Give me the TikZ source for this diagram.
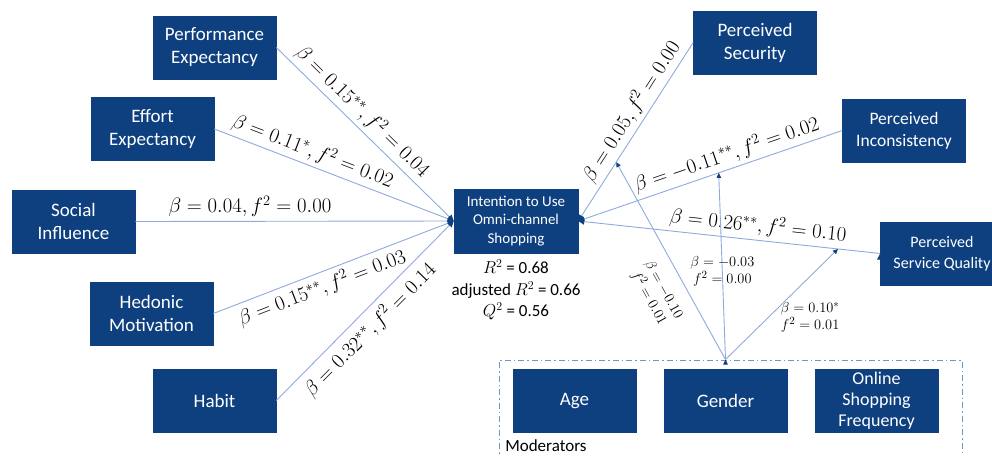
\documentclass[tikz,border=0pt]{standalone}
\usepackage{amsmath}
\usepackage{fontspec}
\setmainfont{Carlito}
\usetikzlibrary{arrows.meta}
\usetikzlibrary{calc}
\usetikzlibrary{positioning}
\definecolor{boxblue}{RGB}{14,64,128}
\definecolor{pathblue}{RGB}{143,170,220}
\definecolor{modblue}{RGB}{110,150,205}

\begin{document}
\begin{tikzpicture}[x=1pt,y=-1pt,-,node distance=151pt,semithick]
 \tikzstyle{var}=[draw=boxblue, fill=boxblue, text=white, align=center, inner sep=2pt,
   minimum width=123pt, minimum height=63pt, font=\fontsize{19}{23}\selectfont]
 \tikzstyle{link}=[draw=pathblue, line width=0.9pt, -{Triangle[length=6pt,width=6pt,color=boxblue]}]
 \tikzstyle{coef}=[sloped, inner sep=4pt, font=\fontsize{20.5}{24}\selectfont]
 \tikzstyle{mcoef}=[align=center, inner sep=2pt, font=\fontsize{15}{17}\selectfont]
 \useasboundingbox (0,0) rectangle (992,455);

 % outcome
 \node[var, minimum width=124pt, minimum height=64pt, font=\fontsize{15}{18.5}\selectfont] (I) at (516,221) {Intention to Use\\Omni-channel\\Shopping};
 \node[below=3pt of I, align=center, font=\fontsize{17}{21.5}\selectfont] (RS) {$R^2$ = 0.68\\adjusted $R^2$ = 0.66\\$Q^2$ = 0.56};

 % predictors
 \node[var] (PE) at (214.5,47.5) {Performance\\Expectancy};
 \node[var] (EE) at (152.5,129) {Effort\\Expectancy};
 \node[var] (SI) at (73.5,221.5) {Social\\Influence};
 \node[var] (HM) at (151.5,313.5) {Hedonic\\Motivation};
 \node[var] (HB) at (214.5,400.5) {Habit};
 \node[var] (PS) at (755,42.5) {Perceived\\Security};
 \node[var, font=\fontsize{17.5}{22}\selectfont] (PI) at (904,130.5) {Perceived\\Inconsistency};
 \node[var, font=\fontsize{16}{21}\selectfont] (PQ) at (942,253.5) {Perceived\\Service Quality};

 % moderators
 \node[draw=modblue, line width=0.9pt, dash pattern=on 6pt off 3pt on 1.5pt off 3pt,
   minimum width=463pt, minimum height=98pt] (MB) at (730.5,409) {};
 \node[var] (GE) at (725.5,401) {Gender};
 \node[var] (AG) [left of=GE] {Age};
 \node[var, inner sep=0pt, font=\fontsize{18}{21}\selectfont] (OF) [right of=GE] {Online\\Shopping\\Frequency};
 \node[anchor=west, inner sep=0pt, font=\fontsize{17}{20}\selectfont] (ML) at (505,446) {Moderators};

 \path[link]
  (PE.east) edge node[coef, above, pos=0.43] {$\beta=0.15^{**}, f^2=0.04$} (I.west)
  (EE.east) edge node[coef, above, pos=0.39] {$\beta=0.11^{*}, f^2=0.02$} (I.west)
  (SI.east) edge node[coef, above, pos=0.36] {$\beta=0.04, f^2=0.00$} (I.west)
  (HM.east) edge node[coef, below, pos=0.43] {$\beta=0.15^{**}, f^2=0.03$} (I.west)
  (HB.east) edge node[coef, below, pos=0.46, inner sep=6pt] {$\beta=0.32^{**}, f^2=0.14$} (I.west)
  (PS.west) edge node[coef, above, pos=0.43] {$\beta=0.05, f^2=0.00$} (I.east)
  (PI.west) edge node[coef, above, pos=0.42] {$\beta=-0.11^{**}, f^2=0.02$} (I.east)
  (PQ.west) edge node[coef, above, pos=0.41] {$\beta=0.26^{**}, f^2=0.10$} (I.east);

 \coordinate (MT) at (GE |- MB.north);
 \coordinate (T1) at ($(PS.west)!0.67!(I.east)$);
 \coordinate (T2) at ($(PI.west)!0.468!(I.east)$);
 \coordinate (T3) at ($(PQ.west)!0.14!(I.east)$);

 \path[link, -{Triangle[length=5pt,width=4.5pt,color=boxblue]}]
  (MT) edge (T1)
  (MT) edge node[mcoef, pos=0.47] {$\beta=-0.03$\\$f^2=0.00$} (T2)
  (MT) edge node[mcoef, pos=0.38, right=10pt] {$\beta=0.10^{*}$\\$f^2=0.01$} (T3);
 \node[mcoef, rotate=-61] (L1) at (656,294) {$\beta=-0.10$\\$f^2=0.01$};
\end{tikzpicture}
\end{document}
